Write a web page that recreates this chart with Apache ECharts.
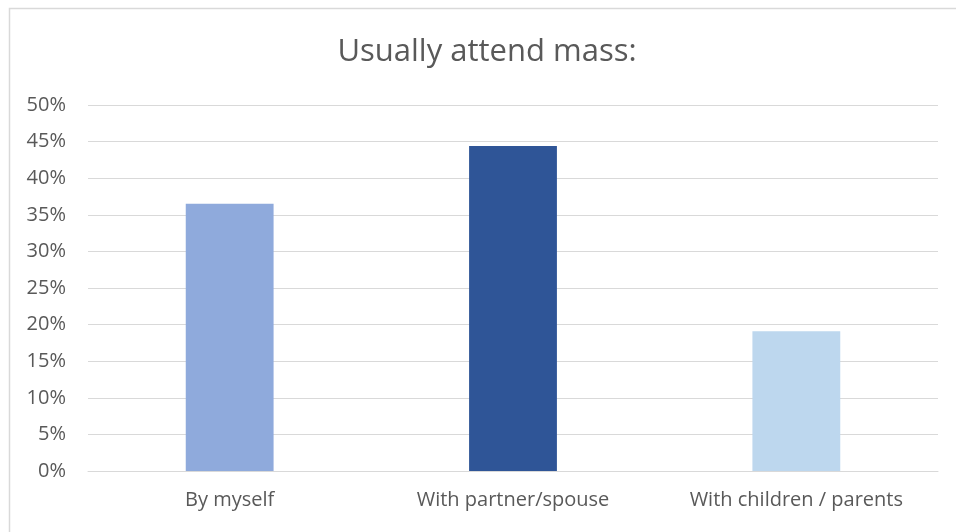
<!DOCTYPE html>
<html>
<head>
<meta charset="utf-8">
<script src="https://cdn.jsdelivr.net/npm/echarts@6/dist/echarts.min.js"></script>
<style>html,body{margin:0;padding:0;background:#fff;}#c{width:956px;height:532px;}</style>
</head>
<body>
<div id="c"></div>
<script>
var categories = ['By myself', 'With partner/spouse', 'With children / parents'];
var values = [36.5, 44.4, 19.1];
var colors = ['#8faadc', '#2f5597', '#bdd7ee'];
var yTicks = ['0%', '5%', '10%', '15%', '20%', '25%', '30%', '35%', '40%', '45%', '50%'];
var titleText = 'Usually attend mass:';

var chart = echarts.init(document.getElementById('c'), null, {renderer: 'canvas'});
chart.setOption({
  animation: false,
  backgroundColor: '#fff',
  graphic: [{
    type: 'rect', left: 7, top: 6,
    shape: {width: 980, height: 560},
    style: {fill: 'none', stroke: '#d9d9d9', lineWidth: 1.5},
    silent: true
  }, {
    type: 'text', x: 487, y: 52,
    style: {
      text: titleText, align: 'center', verticalAlign: 'middle',
      font: '31px "Open Sans"', fill: '#595959'
    },
    silent: true
  }],
  grid: {left: 88, right: 18, top: 105, bottom: 61},
  xAxis: {
    type: 'category',
    data: categories,
    axisLine: {lineStyle: {color: '#d9d9d9', width: 1}},
    axisTick: {show: false},
    axisLabel: {fontFamily: 'Open Sans', fontSize: 20, color: '#595959', margin: 19, interval: 0, hideOverlap: false}
  },
  yAxis: {
    type: 'value',
    min: 0, max: 50, interval: 5,
    axisLine: {show: false},
    axisTick: {show: false},
    splitLine: {lineStyle: {color: '#d9d9d9', width: 1}},
    axisLabel: {
      fontFamily: 'Open Sans', fontSize: 20, color: '#595959', margin: 22,
      formatter: function (v) { return yTicks[Math.round(v / 5)]; }
    }
  },
  series: [{
    type: 'bar',
    barWidth: '31%',
    data: values.map(function (v, i) { return {value: v, itemStyle: {color: colors[i]}}; })
  }]
});
</script>
</body>
</html>
